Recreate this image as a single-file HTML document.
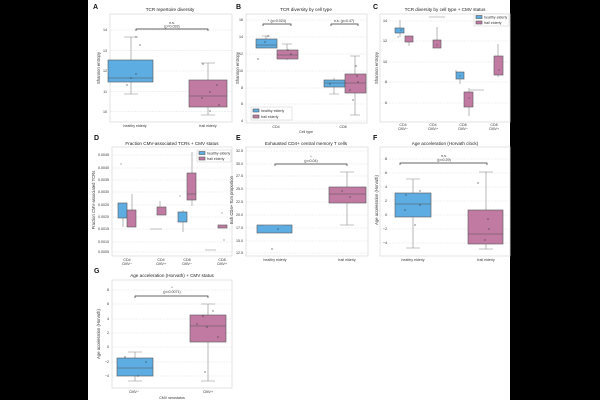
<!DOCTYPE html>
<html><head><meta charset="utf-8"><style>
html,body{margin:0;padding:0;background:#000;}
svg{display:block;font-family:"Liberation Sans",sans-serif;}
</style></head><body>
<svg width="600" height="400" xmlns="http://www.w3.org/2000/svg">
<rect x="88" y="0" width="422" height="400" fill="#fff"/>
<defs><style>
.ax{fill:#fff;stroke:#ddd;stroke-width:0.8}
.g{stroke:#e2e2e2;stroke-width:0.5;stroke-dasharray:2,1}
.t{font-size:3.6px;fill:#333}
.ti{font-size:4.6px;fill:#222;text-anchor:middle}
.yl{font-size:4.2px;fill:#333;text-anchor:middle}
.pl{font-size:7px;font-weight:bold;fill:#111}
.b{fill:#5dade2;stroke:#555;stroke-width:0.6}
.p{fill:#c17ba3;stroke:#555;stroke-width:0.6}
.w{stroke:#888;stroke-width:0.6;fill:none}
.br{stroke:#333;stroke-width:0.7;fill:none}
.d{fill:#333}
</style></defs>

<!-- A -->
<text class="pl" x="93" y="9">A</text>
<text class="ti" x="170" y="11">TCR repertoire diversity</text>
<rect class="ax" x="110" y="14" width="122" height="108"/>
<g class="g"><line x1="110" x2="232" y1="30" y2="30"/><line x1="110" x2="232" y1="50.5" y2="50.5"/><line x1="110" x2="232" y1="71" y2="71"/><line x1="110" x2="232" y1="91.5" y2="91.5"/><line x1="110" x2="232" y1="111.5" y2="111.5"/></g>
<g class="t" text-anchor="end"><text x="107" y="31">14</text><text x="107" y="52">13</text><text x="107" y="72">12</text><text x="107" y="93">11</text><text x="107" y="113">10</text></g>
<text class="yl" transform="translate(100,68) rotate(-90)">Shannon entropy</text>
<path class="w" d="M131 37V60M131 82V94M124 37H138M124 94H138M208 63V80M208 107V115M201 63H215M201 115H215"/>
<rect class="b" x="108" y="60" width="45" height="22"/><line x1="108" x2="153" y1="78" y2="78" stroke="#555" stroke-width="0.6"/>
<rect class="p" x="189" y="80" width="38" height="27"/><line x1="189" x2="227" y1="96" y2="96" stroke="#555" stroke-width="0.6"/>
<g class="d"><circle cx="136" cy="37" r="0.6"/><circle cx="140" cy="45" r="0.6"/><circle cx="136" cy="74" r="0.6"/><circle cx="131" cy="78" r="0.6"/><circle cx="127" cy="85" r="0.6"/><circle cx="203" cy="64" r="0.6"/><circle cx="210" cy="92" r="0.6"/><circle cx="217" cy="85" r="0.6"/><circle cx="202" cy="98" r="0.6"/><circle cx="219" cy="105" r="0.6"/><circle cx="210" cy="111" r="0.6"/></g>
<path class="br" d="M136 31V29H208V31"/>
<text class="t" x="172" y="24" text-anchor="middle" font-size="3px">n.s.</text>
<text class="t" x="172" y="27.5" text-anchor="middle" font-size="3px">(p=0.093)</text>
<text class="t" x="135" y="127" text-anchor="middle">healthy elderly</text>
<text class="t" x="208" y="127" text-anchor="middle">frail elderly</text>

<!-- B -->
<text class="pl" x="236" y="9">B</text>
<text class="ti" x="306" y="11">TCR diversity by cell type</text>
<rect class="ax" x="246" y="14" width="121" height="109"/>
<g class="g"><line x1="246" x2="367" y1="20" y2="20"/><line x1="246" x2="367" y1="37" y2="37"/><line x1="246" x2="367" y1="54" y2="54"/><line x1="246" x2="367" y1="71" y2="71"/><line x1="246" x2="367" y1="88" y2="88"/><line x1="246" x2="367" y1="104" y2="104"/><line x1="246" x2="367" y1="121" y2="121"/></g>
<g class="t" text-anchor="end"><text x="243" y="21">16</text><text x="243" y="38">14</text><text x="243" y="55">12</text><text x="243" y="72">10</text><text x="243" y="89">8</text><text x="243" y="105">6</text><text x="243" y="122">4</text></g>
<text class="yl" transform="translate(239,68) rotate(-90)">Shannon entropy</text>
<path class="w" d="M266 36V39M262 36H270M287 44V50M287 59V60M282 44H292M334 78V80M334 87V94M329 94H339M355 56V74M355 93V115M350 56H360M350 115H360"/>
<rect class="b" x="256" y="39" width="21" height="9"/><line x1="256" x2="277" y1="45" y2="45" stroke="#555" stroke-width="0.6"/>
<rect class="p" x="277" y="50" width="21" height="9"/><line x1="277" x2="298" y1="55" y2="55" stroke="#555" stroke-width="0.6"/>
<rect class="b" x="324" y="80" width="21" height="7"/><line x1="324" x2="345" y1="83" y2="83" stroke="#555" stroke-width="0.6"/>
<rect class="p" x="345" y="74" width="21" height="19"/><line x1="345" x2="366" y1="83" y2="83" stroke="#555" stroke-width="0.6"/>
<g class="d"><circle cx="268" cy="36" r="0.6"/><circle cx="265" cy="42" r="0.6"/><circle cx="258" cy="59" r="0.6"/><circle cx="288" cy="50" r="0.6"/><circle cx="291" cy="54" r="0.6"/><circle cx="357" cy="76" r="0.6"/><circle cx="358" cy="82" r="0.6"/><circle cx="350" cy="90" r="0.6"/><circle cx="353" cy="100" r="0.6"/><circle cx="356" cy="66" r="0.6"/><circle cx="330" cy="84" r="0.6"/></g>
<path class="br" d="M263 26V24H291V26M331 26V24H358V26"/>
<text class="t" x="277" y="22" text-anchor="middle" font-size="2.8px">* (p=0.024)</text>
<text class="t" x="344" y="22" text-anchor="middle" font-size="2.8px">n.s. (p=0.47)</text>
<rect x="251" y="107" width="41" height="13" fill="#fff" stroke="#ccc" stroke-width="0.5"/>
<rect class="b" x="253" y="109" width="6" height="3"/><text class="t" x="261" y="112" font-size="3px">healthy elderly</text>
<rect class="p" x="253" y="115" width="6" height="3"/><text class="t" x="261" y="118" font-size="3px">frail elderly</text>
<text class="t" x="276" y="128" text-anchor="middle">CD4</text>
<text class="t" x="343" y="128" text-anchor="middle">CD8</text>
<text class="t" x="306" y="133" text-anchor="middle">Cell type</text>

<!-- C -->
<text class="pl" x="373" y="9">C</text>
<text class="ti" x="445" y="11">TCR diversity by cell type + CMV status</text>
<rect class="ax" x="380" y="14" width="130" height="108"/>
<g class="g"><line x1="380" x2="510" y1="21" y2="21"/><line x1="380" x2="510" y1="41" y2="41"/><line x1="380" x2="510" y1="62" y2="62"/><line x1="380" x2="510" y1="82" y2="82"/><line x1="380" x2="510" y1="103" y2="103"/></g>
<g class="t" text-anchor="end"><text x="387" y="22">14</text><text x="387" y="42">12</text><text x="387" y="63">10</text><text x="387" y="83">8</text><text x="387" y="104">6</text></g>
<text class="yl" transform="translate(378,68) rotate(-90)">Shannon entropy</text>
<path class="w" d="M400 20V28M400 33V37M409 36V36M409 42V46M437 27V40M456 70V72M460 79V84M469 88V92M469 107V116M498 44V56M498 75V77"/>
<rect class="b" x="395" y="28" width="9" height="5"/>
<rect class="p" x="405" y="36" width="8" height="6"/>
<line x1="429" x2="445" y1="17" y2="17" stroke="#999" stroke-width="0.6"/>
<rect class="p" x="433" y="40" width="8" height="8"/>
<rect class="b" x="456" y="72" width="8" height="7"/>
<rect class="p" x="464" y="92" width="9" height="15"/>
<line x1="470" x2="484" y1="90" y2="90" stroke="#999" stroke-width="0.6"/>
<rect class="p" x="494" y="56" width="9" height="19"/>
<g class="d"><circle cx="398" cy="37" r="0.5"/><circle cx="401" cy="30" r="0.5"/><circle cx="437" cy="45" r="0.5"/><circle cx="460" cy="76" r="0.5"/><circle cx="469" cy="98" r="0.5"/><circle cx="499" cy="70" r="0.5"/></g>
<rect x="474" y="14" width="35" height="12" fill="#fff" stroke="#ccc" stroke-width="0.5"/>
<rect class="b" x="476" y="15.5" width="6" height="3"/><text class="t" x="484" y="18.5" font-size="3px">healthy elderly</text>
<rect class="p" x="476" y="21" width="6" height="3"/><text class="t" x="484" y="24" font-size="3px">frail elderly</text>
<g class="t" text-anchor="middle" font-size="3px"><text x="403" y="126">CD4</text><text x="403" y="130">CMV−</text><text x="433" y="126">CD4</text><text x="433" y="130">CMV+</text><text x="463" y="126">CD8</text><text x="463" y="130">CMV−</text><text x="494" y="126">CD8</text><text x="494" y="130">CMV+</text></g>

<!-- D -->
<text class="pl" x="94" y="140">D</text>
<text class="ti" x="172" y="145">Fraction CMV-associated TCRs + CMV status</text>
<rect class="ax" x="112" y="147" width="120" height="109"/>
<g class="g"><line x1="112" x2="232" y1="155" y2="155"/><line x1="112" x2="232" y1="168" y2="168"/><line x1="112" x2="232" y1="180" y2="180"/><line x1="112" x2="232" y1="192" y2="192"/><line x1="112" x2="232" y1="205" y2="205"/><line x1="112" x2="232" y1="217" y2="217"/><line x1="112" x2="232" y1="229" y2="229"/><line x1="112" x2="232" y1="242" y2="242"/><line x1="112" x2="232" y1="252" y2="252"/></g>
<g class="t" text-anchor="end" font-size="3.2px"><text x="109" y="156">0.0045</text><text x="109" y="169">0.0040</text><text x="109" y="181">0.0035</text><text x="109" y="193">0.0030</text><text x="109" y="206">0.0025</text><text x="109" y="218">0.0020</text><text x="109" y="230">0.0015</text><text x="109" y="243">0.0010</text><text x="109" y="253">0.0005</text></g>
<text class="yl" transform="translate(95,200) rotate(-90)">Fraction CMV-associated TCRs</text>
<path class="w" d="M123 203V203M123 218V227M132 194V210M160 201V207M183 210V212M183 222V232M192 152V173M192 200V206"/>
<rect class="b" x="118" y="203" width="9" height="15"/>
<rect class="p" x="127" y="210" width="9" height="17"/>
<line x1="150" x2="162" y1="229" y2="229" stroke="#999" stroke-width="0.6"/>
<rect class="p" x="157" y="207" width="9" height="8"/>
<rect class="b" x="178" y="212" width="9" height="10"/>
<rect class="p" x="187" y="173" width="9" height="27"/><line x1="187" x2="196" y1="194" y2="194" stroke="#555" stroke-width="0.6"/>
<line x1="205" x2="216" y1="250" y2="250" stroke="#999" stroke-width="0.6"/>
<rect class="p" x="218" y="225" width="9" height="3"/>
<g class="d"><circle cx="121" cy="164" r="0.5"/><circle cx="180" cy="196" r="0.5"/><circle cx="222" cy="213" r="0.5"/><circle cx="224" cy="240" r="0.5"/></g>
<rect x="197" y="150" width="34" height="12" fill="#fff" stroke="#ccc" stroke-width="0.5"/>
<rect class="b" x="199" y="151.5" width="6" height="3"/><text class="t" x="207" y="154.5" font-size="3px">healthy elderly</text>
<rect class="p" x="199" y="157" width="6" height="3"/><text class="t" x="207" y="160" font-size="3px">frail elderly</text>
<g class="t" text-anchor="middle" font-size="3px"><text x="127" y="261">CD4</text><text x="127" y="265">CMV−</text><text x="161" y="261">CD4</text><text x="161" y="265">CMV+</text><text x="187" y="261">CD8</text><text x="187" y="265">CMV−</text><text x="222" y="261">CD8</text><text x="222" y="265">CMV+</text></g>

<!-- E -->
<text class="pl" x="236" y="140">E</text>
<text class="ti" x="306" y="145">Exhausted CD4+ central memory T cells</text>
<rect class="ax" x="246" y="147" width="122" height="109"/>
<g class="g"><line x1="246" x2="368" y1="151" y2="151"/><line x1="246" x2="368" y1="164" y2="164"/><line x1="246" x2="368" y1="176" y2="176"/><line x1="246" x2="368" y1="189" y2="189"/><line x1="246" x2="368" y1="202" y2="202"/><line x1="246" x2="368" y1="215" y2="215"/><line x1="246" x2="368" y1="228" y2="228"/><line x1="246" x2="368" y1="241" y2="241"/><line x1="246" x2="368" y1="253" y2="253"/></g>
<g class="t" text-anchor="end" font-size="3.2px"><text x="243" y="152">32.5</text><text x="243" y="165">30.0</text><text x="243" y="177">27.5</text><text x="243" y="190">25.0</text><text x="243" y="203">22.5</text><text x="243" y="216">20.0</text><text x="243" y="229">17.5</text><text x="243" y="242">15.0</text><text x="243" y="254">12.5</text></g>
<text class="yl" transform="translate(233,200) rotate(-90)">Exh CD4+ Tcm proportion</text>
<rect class="b" x="257" y="225" width="35" height="8"/>
<line x1="264" x2="284" y1="225" y2="225" stroke="#999" stroke-width="0.6"/>
<path class="w" d="M347 172V187M347 203V225M340 172H354M340 225H354"/>
<rect class="p" x="329" y="187" width="37" height="16"/><line x1="329" x2="366" y1="194" y2="194" stroke="#555" stroke-width="0.6"/>
<g class="d"><circle cx="278" cy="229" r="0.6"/><circle cx="272" cy="249" r="0.6"/><circle cx="342" cy="191" r="0.6"/><circle cx="350" cy="197" r="0.6"/></g>
<path class="br" d="M275 166V164H347V166"/>
<text class="t" x="311" y="158" text-anchor="middle" font-size="3px">*</text>
<text class="t" x="311" y="162" text-anchor="middle" font-size="3px">(p=0.04)</text>
<text class="t" x="275" y="261" text-anchor="middle">healthy elderly</text>
<text class="t" x="347" y="261" text-anchor="middle">frail elderly</text>

<!-- F -->
<text class="pl" x="373" y="140">F</text>
<text class="ti" x="445" y="145">Age acceleration (Horvath clock)</text>
<rect class="ax" x="380" y="147" width="130" height="109"/>
<g class="g"><line x1="380" x2="510" y1="159" y2="159"/><line x1="380" x2="510" y1="173" y2="173"/><line x1="380" x2="510" y1="187" y2="187"/><line x1="380" x2="510" y1="201" y2="201"/><line x1="380" x2="510" y1="215" y2="215"/><line x1="380" x2="510" y1="229" y2="229"/><line x1="380" x2="510" y1="243" y2="243"/></g>
<g class="t" text-anchor="end"><text x="387" y="160">8</text><text x="387" y="174">6</text><text x="387" y="188">4</text><text x="387" y="202">2</text><text x="387" y="216">0</text><text x="387" y="230">−2</text><text x="387" y="244">−4</text></g>
<text class="yl" transform="translate(378,200) rotate(-90)">Age acceleration (Horvath)</text>
<path class="w" d="M413 179V193M413 217V248M406 179H420M406 248H420M486 172V210M486 244V249M479 172H493M479 249H493"/>
<rect class="b" x="395" y="193" width="36" height="24"/><line x1="395" x2="431" y1="204" y2="204" stroke="#555" stroke-width="0.6"/>
<rect class="p" x="468" y="210" width="35" height="34"/><line x1="468" x2="503" y1="234" y2="234" stroke="#555" stroke-width="0.6"/>
<g class="d"><circle cx="406" cy="195" r="0.6"/><circle cx="405" cy="210" r="0.6"/><circle cx="420" cy="191" r="0.6"/><circle cx="420" cy="205" r="0.6"/><circle cx="415" cy="225" r="0.6"/><circle cx="478" cy="183" r="0.6"/><circle cx="488" cy="219" r="0.6"/><circle cx="489" cy="229" r="0.6"/><circle cx="485" cy="240" r="0.6"/></g>
<path class="br" d="M400 165V163H487V165"/>
<text class="t" x="444" y="157" text-anchor="middle" font-size="3px">n.s.</text>
<text class="t" x="444" y="161" text-anchor="middle" font-size="3px">(p=0.29)</text>
<text class="t" x="413" y="261" text-anchor="middle">healthy elderly</text>
<text class="t" x="486" y="261" text-anchor="middle">frail elderly</text>

<!-- G -->
<text class="pl" x="94" y="273">G</text>
<text class="ti" x="172" y="277">Age acceleration (Horvath) + CMV status</text>
<rect class="ax" x="112" y="280" width="120" height="108"/>
<g class="g"><line x1="112" x2="232" y1="290" y2="290"/><line x1="112" x2="232" y1="304" y2="304"/><line x1="112" x2="232" y1="319" y2="319"/><line x1="112" x2="232" y1="333" y2="333"/><line x1="112" x2="232" y1="347" y2="347"/><line x1="112" x2="232" y1="362" y2="362"/><line x1="112" x2="232" y1="376" y2="376"/></g>
<g class="t" text-anchor="end"><text x="109" y="291">8</text><text x="109" y="305">6</text><text x="109" y="320">4</text><text x="109" y="334">2</text><text x="109" y="348">0</text><text x="109" y="363">−2</text><text x="109" y="377">−4</text></g>
<text class="yl" transform="translate(100,334) rotate(-90)">Age acceleration (Horvath)</text>
<path class="w" d="M135 352V358M135 376V381M128 352H142M128 381H142M208 304V315M208 342V381M201 304H215M201 381H215"/>
<rect class="b" x="117" y="358" width="36" height="18"/><line x1="117" x2="153" y1="368" y2="368" stroke="#555" stroke-width="0.6"/>
<rect class="p" x="190" y="315" width="36" height="27"/><line x1="190" x2="226" y1="326" y2="326" stroke="#555" stroke-width="0.6"/>
<g class="d"><circle cx="125" cy="357" r="0.6"/><circle cx="146" cy="362" r="0.6"/><circle cx="138" cy="376" r="0.6"/><circle cx="203" cy="316" r="0.6"/><circle cx="213" cy="311" r="0.6"/><circle cx="197" cy="324" r="0.6"/><circle cx="207" cy="327" r="0.6"/><circle cx="218" cy="337" r="0.6"/><circle cx="205" cy="372" r="0.6"/></g>
<path class="br" d="M135 298V296H208V298"/>
<text class="t" x="172" y="289" text-anchor="middle" font-size="3px">*</text>
<text class="t" x="172" y="293" text-anchor="middle" font-size="3px">(p=0.0071)</text>
<text class="t" x="134" y="393" text-anchor="middle">CMV−</text>
<text class="t" x="208" y="393" text-anchor="middle">CMV+</text>
<text class="t" x="172" y="399" text-anchor="middle">CMV serostatus</text>
</svg>
</body></html>
